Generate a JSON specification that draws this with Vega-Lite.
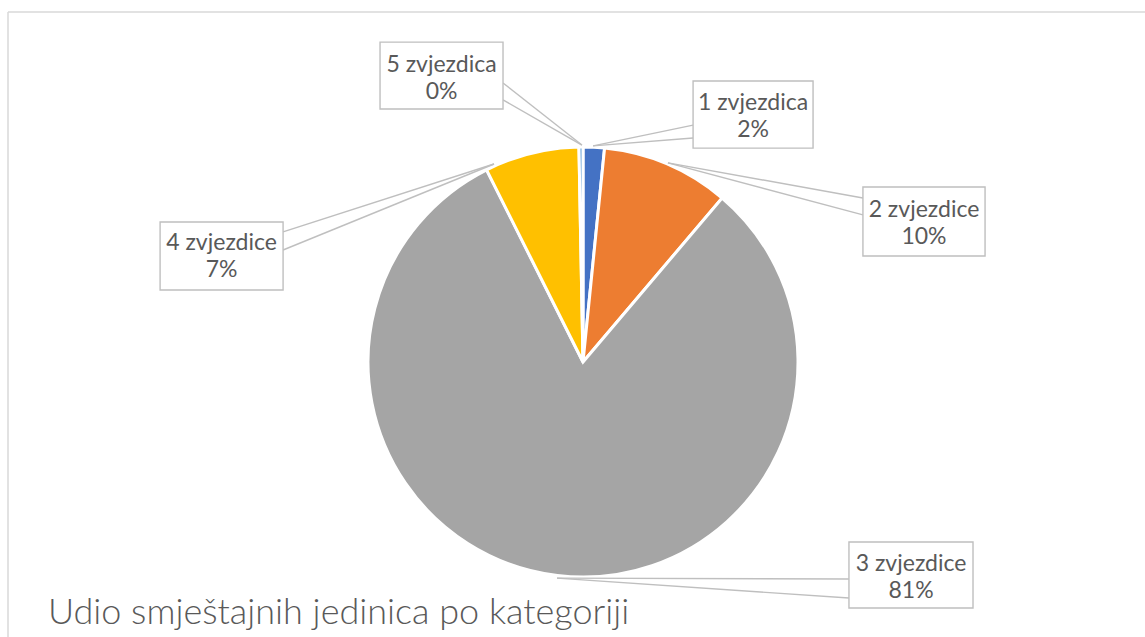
{
  "$schema": "https://vega.github.io/schema/vega-lite/v6.json",
  "width": 1137,
  "height": 625,
  "autosize": {"type": "none"},
  "padding": {"left": 8, "top": 12, "right": 0, "bottom": 0},
  "background": "white",
  "view": {"stroke": null},
  "title": {
    "text": "Udio smještajnih jedinica po kategoriji",
    "orient": "bottom",
    "anchor": "start",
    "frame": "group",
    "offset": -14,
    "dx": 40,
    "baseline": "alphabetic",
    "font": "Lato",
    "fontSize": 36,
    "fontWeight": 300,
    "color": "#595959"
  },
  "datasets": {
    "slices": [
      {"category": "1 zvjezdica", "share": 1.6},
      {"category": "2 zvjezdice", "share": 9.6},
      {"category": "3 zvjezdice", "share": 81.4},
      {"category": "4 zvjezdice", "share": 7.1},
      {"category": "5 zvjezdica", "share": 0.3}
    ],
    "labels": [
      {"category": "1 zvjezdica", "bx1": 0.512, "bx2": 1.07, "by1": 1.307, "by2": 0.995, "tx": 0.791, "ty": 1.142, "lx": 0.512, "ly1": 1.102, "ly2": 1.042, "px": 0.047, "py": 1.005},
      {"category": "2 zvjezdice", "bx1": 1.302, "bx2": 1.87, "by1": 0.814, "by2": 0.493, "tx": 1.586, "ty": 0.644, "lx": 1.302, "ly1": 0.763, "ly2": 0.684, "px": 0.395, "py": 0.926},
      {"category": "3 zvjezdice", "bx1": 1.237, "bx2": 1.814, "by1": -0.837, "by2": -1.144, "tx": 1.526, "ty": -1.0, "lx": 1.237, "ly1": -1.009, "ly2": -1.098, "px": -0.121, "py": -1.005},
      {"category": "4 zvjezdice", "bx1": -1.967, "bx2": -1.395, "by1": 0.651, "by2": 0.335, "tx": -1.681, "ty": 0.493, "lx": -1.395, "ly1": 0.605, "ly2": 0.521, "px": -0.414, "py": 0.921},
      {"category": "5 zvjezdica", "bx1": -0.944, "bx2": -0.372, "by1": 1.488, "by2": 1.177, "tx": -0.658, "ty": 1.319, "lx": -0.372, "ly1": 1.298, "ly2": 1.219, "px": -0.005, "py": 1.009}
    ]
  },
  "layer": [
    {
      "data": {"name": "slices"},
      "mark": {"type": "arc", "outerRadius": 215, "stroke": "white", "strokeWidth": 3},
      "encoding": {
        "x": {"datum": 0, "type": "quantitative", "scale": {"domain": [-2.67442, 2.61395], "nice": false, "zero": false}, "axis": null},
        "y": {"datum": 0, "type": "quantitative", "scale": {"domain": [-1.27907, 1.62791], "nice": false, "zero": false}, "axis": null},
        "theta": {"field": "share", "type": "quantitative", "stack": true},
        "order": {"field": "category", "type": "ordinal"},
        "color": {
          "field": "category",
          "type": "nominal",
          "scale": {
            "domain": ["1 zvjezdica", "2 zvjezdice", "3 zvjezdice", "4 zvjezdice", "5 zvjezdica"],
            "range": ["#4472C4", "#ED7D31", "#A5A5A5", "#FFC000", "#5B9BD5"]
          },
          "legend": null
        }
      }
    },
    {
      "data": {"values": [{}]},
      "mark": {"type": "rule", "color": "#d9d9d9", "strokeWidth": 1.5},
      "encoding": {"y": {"datum": 1.62791, "type": "quantitative"}}
    },
    {
      "data": {"values": [{}]},
      "mark": {"type": "rule", "color": "#d9d9d9", "strokeWidth": 1.5},
      "encoding": {"x": {"datum": -2.67442, "type": "quantitative"}}
    },
    {
      "data": {"name": "labels"},
      "mark": {"type": "rule", "color": "#bfbfbf", "strokeWidth": 1.4},
      "encoding": {
        "x": {"field": "lx", "type": "quantitative"},
        "y": {"field": "ly1", "type": "quantitative"},
        "x2": {"field": "px"},
        "y2": {"field": "py"}
      }
    },
    {
      "data": {"name": "labels"},
      "mark": {"type": "rule", "color": "#bfbfbf", "strokeWidth": 1.4},
      "encoding": {
        "x": {"field": "lx", "type": "quantitative"},
        "y": {"field": "ly2", "type": "quantitative"},
        "x2": {"field": "px"},
        "y2": {"field": "py"}
      }
    },
    {
      "data": {"name": "labels"},
      "mark": {"type": "rect", "fill": "white", "stroke": "#bfbfbf", "strokeWidth": 1.4},
      "encoding": {
        "x": {"field": "bx1", "type": "quantitative"},
        "x2": {"field": "bx2"},
        "y": {"field": "by1", "type": "quantitative"},
        "y2": {"field": "by2"}
      }
    },
    {
      "data": {"name": "labels"},
      "transform": [
        {"lookup": "category", "from": {"data": {"name": "slices"}, "key": "category", "fields": ["share"]}},
        {"calculate": "datum.category + '\\n' + format(datum.share / 100, '.0%')", "as": "txt"}
      ],
      "mark": {"type": "text", "font": "Lato", "fontSize": 23, "color": "#595959", "align": "center", "baseline": "middle", "lineBreak": "\n", "lineHeight": 27, "dy": -13.5},
      "encoding": {
        "x": {"field": "tx", "type": "quantitative"},
        "y": {"field": "ty", "type": "quantitative"},
        "text": {"field": "txt"}
      }
    }
  ]
}
